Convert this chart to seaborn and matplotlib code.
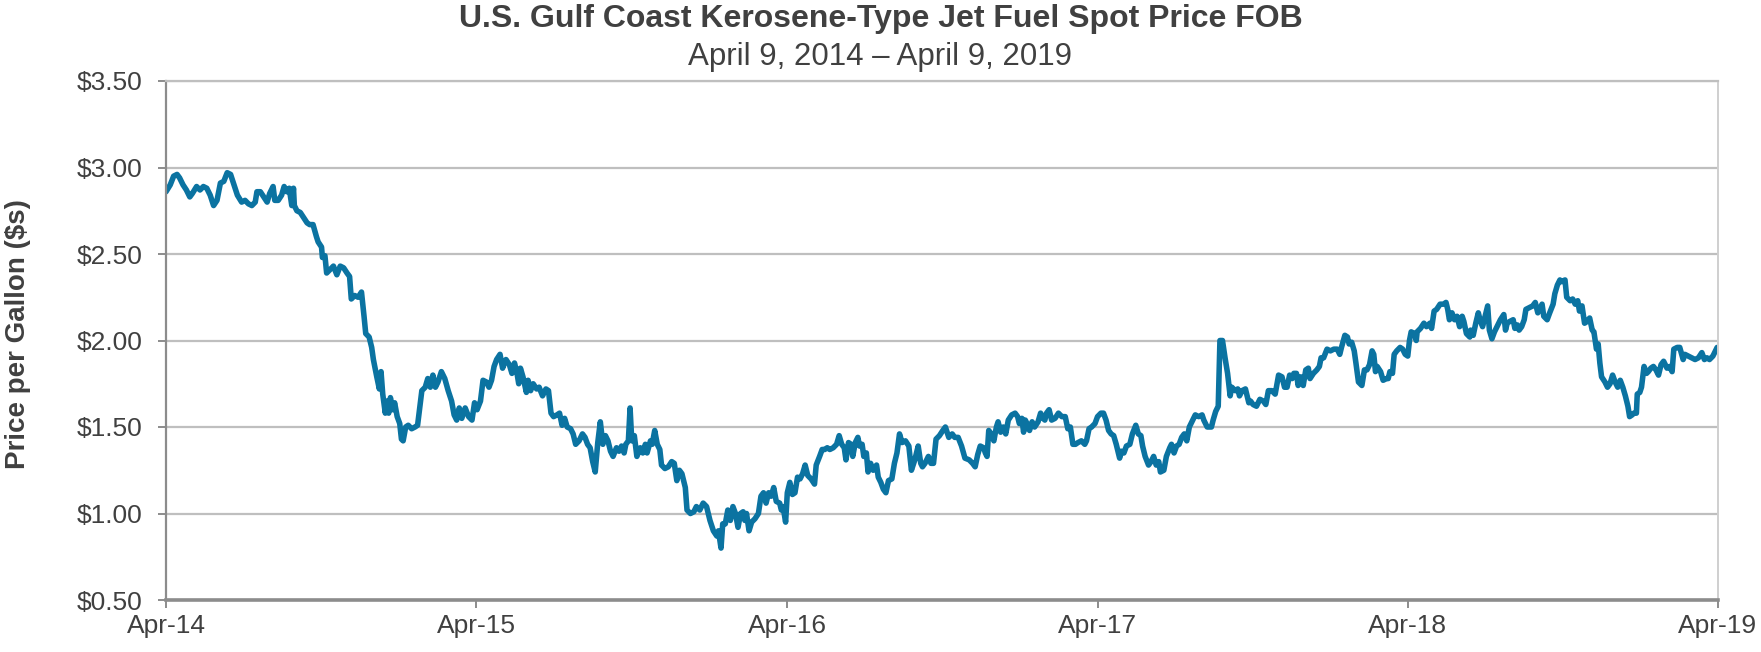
import matplotlib
matplotlib.use("Agg")
import matplotlib.pyplot as plt
import matplotlib.dates as mdates
from matplotlib.ticker import FuncFormatter
import pandas as pd
import seaborn as sns

TITLE = "U.S. Gulf Coast Kerosene-Type Jet Fuel Spot Price FOB"
SUBTITLE = "April 9, 2014 \u2013 April 9, 2019"
Y_LABEL = "Price per Gallon ($s)"
START = "2014-04-09"
END = "2019-04-09"
X_TICKS = ["2014-04-09", "2015-04-09", "2016-04-09", "2017-04-09", "2018-04-09", "2019-04-09"]
Y_TICKS = [0.5, 1.0, 1.5, 2.0, 2.5, 3.0, 3.5]

# days after 2014-04-09
days = [
    0, 5, 9, 13, 16, 20, 24, 28, 31, 36, 40, 44, 48, 52, 56, 60, 64, 68, 72, 76,
    80, 84, 89, 93, 97, 101, 105, 107, 111, 115, 119, 122, 126, 128, 132, 136, 139, 142, 145, 148,
    150, 151, 154, 158, 162, 166, 169, 173, 177, 179, 183, 184, 187, 189, 193, 197, 201, 205, 209, 213,
    216, 218, 222, 226, 230, 233, 235, 239, 242, 244, 248, 251, 253, 255, 258, 260, 262, 264, 267, 269,
    272, 275, 277, 279, 282, 285, 289, 293, 296, 299,
    301, 305, 308, 311, 314, 317, 320, 324, 328, 332, 336, 339, 342, 345, 348, 352, 356, 360, 363, 366,
    370, 373, 377, 380, 383, 386, 389, 393, 396, 400, 404, 407, 410, 413, 415, 417, 420, 424, 426, 429,
    432, 436, 439, 443, 447, 450, 453, 456, 460, 463, 466, 469, 472, 476, 479, 482, 486, 490, 493, 496,
    499, 502, 505, 508, 511, 514, 517, 520, 523, 526, 530, 533, 536, 539, 541, 544, 546, 548, 551, 554,
    558, 561, 564, 566, 570, 572, 575, 578, 581, 583, 587, 591, 595, 598, 601, 604, 607, 611, 613, 617,
    621, 624, 628,
    632, 636, 640, 644, 648, 650, 653, 655, 658, 661, 664, 667, 670, 673, 676, 679, 681, 683, 686, 689,
    693, 697, 700, 703, 706, 709, 712, 715, 718, 722, 724, 726, 729, 731, 734, 737, 740, 743, 746, 749,
    752, 755, 759, 763, 765, 769, 772, 775, 778, 781, 785, 789, 792, 795, 798, 800, 803, 806, 808, 811,
    814, 816, 819, 821, 824, 826, 829, 832, 836, 838, 841, 844, 847, 850, 854, 857, 860, 863, 866, 870,
    874, 877, 881, 885, 888, 890, 893, 897, 900, 903, 906, 910, 914, 917, 921, 925, 928, 932, 936, 940,
    945, 949, 952, 955,
    958, 962, 964, 966, 968, 971, 974, 977, 979, 982, 985, 988, 991, 995, 999, 1002, 1004, 1007, 1009, 1011,
    1013, 1016, 1019, 1022, 1026, 1029, 1032, 1034, 1036, 1039, 1042, 1046, 1050, 1054, 1058, 1061, 1064, 1067, 1070, 1073,
    1077, 1081, 1083, 1086, 1089, 1093, 1096, 1100, 1103, 1106, 1109, 1112, 1115, 1118, 1122, 1124, 1127, 1130, 1134, 1137,
    1141, 1144, 1147, 1149, 1152, 1156, 1159, 1162, 1165, 1168, 1170, 1174, 1177, 1181, 1183, 1186, 1189, 1192, 1195, 1198,
    1201, 1204, 1207, 1211, 1215, 1219, 1221, 1225, 1228, 1230, 1232, 1235, 1238, 1240, 1243, 1246, 1249, 1252, 1254, 1258,
    1261, 1263, 1266, 1270, 1274, 1276, 1279, 1283,
    1287, 1291, 1294, 1297, 1301, 1305, 1309, 1313, 1316, 1319, 1322, 1325, 1327, 1330, 1332, 1335, 1338, 1341, 1344, 1346,
    1350, 1354, 1357, 1359, 1362, 1366, 1370, 1374, 1378, 1381, 1383, 1387, 1390, 1392, 1395, 1398, 1400, 1403, 1407, 1410,
    1413, 1416, 1419, 1421, 1423, 1425, 1429, 1432, 1436, 1438, 1440, 1443, 1445, 1448, 1452, 1455, 1458, 1461, 1463, 1465,
    1469, 1471, 1472, 1476, 1480, 1483, 1487, 1489, 1492, 1495, 1499, 1503, 1506, 1508, 1510, 1513, 1516, 1519, 1522, 1525,
    1527, 1530, 1534, 1535, 1538, 1541, 1544, 1546, 1549, 1552, 1555, 1557, 1560, 1563, 1566, 1570, 1574, 1576, 1578, 1581,
    1585, 1587, 1590, 1592, 1595, 1598, 1600, 1604, 1608, 1611, 1614, 1616, 1619, 1621, 1625, 1628, 1632, 1634, 1637, 1640,
    1642, 1646, 1648, 1652, 1655, 1658, 1661, 1663, 1666, 1669, 1672, 1675, 1678, 1680, 1683, 1685, 1687, 1689, 1693, 1696,
    1699, 1702, 1705, 1708, 1711, 1714, 1717, 1720, 1722, 1725, 1727, 1730, 1731, 1734, 1736, 1739, 1742, 1744, 1747, 1750,
    1753, 1756, 1759, 1762, 1766, 1769, 1772, 1774, 1778, 1781, 1785, 1787, 1791, 1795, 1799, 1803, 1807, 1810, 1813, 1816,
    1820, 1823, 1825, 1826,
]

price = [
    2.86, 2.90, 2.95, 2.96, 2.94, 2.90, 2.87, 2.83, 2.85, 2.89, 2.87, 2.89, 2.88, 2.84, 2.78, 2.81, 2.91, 2.92, 2.97, 2.96,
    2.90, 2.84, 2.80, 2.81, 2.79, 2.78, 2.80, 2.86, 2.86, 2.83, 2.80, 2.85, 2.89, 2.81, 2.81, 2.84, 2.89, 2.86, 2.88, 2.78,
    2.88, 2.78, 2.75, 2.74, 2.71, 2.68, 2.67, 2.67, 2.60, 2.57, 2.54, 2.48, 2.49, 2.39, 2.41, 2.43, 2.38, 2.43, 2.42, 2.39,
    2.37, 2.24, 2.26, 2.25, 2.28, 2.14, 2.04, 2.02, 1.96, 1.89, 1.79, 1.72, 1.82, 1.69, 1.58, 1.65, 1.58, 1.67, 1.60, 1.64,
    1.56, 1.52, 1.43, 1.42, 1.50, 1.51, 1.49, 1.50, 1.51, 1.63,
    1.71, 1.73, 1.78, 1.73, 1.80, 1.73, 1.76, 1.82, 1.78, 1.71, 1.65, 1.57, 1.54, 1.61, 1.55, 1.61, 1.56, 1.54, 1.64, 1.60,
    1.65, 1.77, 1.76, 1.73, 1.77, 1.85, 1.89, 1.92, 1.84, 1.89, 1.86, 1.81, 1.87, 1.81, 1.75, 1.84, 1.79, 1.70, 1.77, 1.71,
    1.75, 1.72, 1.73, 1.68, 1.72, 1.71, 1.58, 1.56, 1.57, 1.58, 1.51, 1.55, 1.50, 1.49, 1.46, 1.40, 1.42, 1.46, 1.44, 1.40,
    1.38, 1.30, 1.24, 1.41, 1.53, 1.40, 1.45, 1.42, 1.36, 1.33, 1.38, 1.36, 1.39, 1.35, 1.40, 1.42, 1.61, 1.42, 1.45, 1.33,
    1.38, 1.35, 1.40, 1.35, 1.42, 1.40, 1.48, 1.40, 1.37, 1.28, 1.26, 1.27, 1.30, 1.29, 1.19, 1.25, 1.23, 1.15, 1.02, 1.00,
    1.01, 1.04, 1.02,
    1.06, 1.04, 0.96, 0.90, 0.87, 0.90, 0.80, 0.94, 0.94, 1.02, 0.96, 1.04, 1.00, 0.92, 1.00, 1.01, 0.96, 1.00, 0.90, 0.95,
    0.97, 1.00, 1.10, 1.12, 1.06, 1.12, 1.10, 1.15, 1.07, 1.06, 1.02, 1.04, 0.95, 1.12, 1.18, 1.11, 1.12, 1.21, 1.20, 1.23,
    1.28, 1.22, 1.20, 1.17, 1.28, 1.33, 1.37, 1.37, 1.38, 1.37, 1.38, 1.40, 1.45, 1.40, 1.38, 1.31, 1.41, 1.40, 1.33, 1.41,
    1.44, 1.39, 1.40, 1.33, 1.35, 1.24, 1.29, 1.25, 1.28, 1.21, 1.18, 1.14, 1.12, 1.19, 1.20, 1.29, 1.35, 1.46, 1.41, 1.42,
    1.39, 1.25, 1.31, 1.39, 1.29, 1.27, 1.29, 1.33, 1.29, 1.29, 1.43, 1.45, 1.48, 1.50, 1.44, 1.46, 1.44, 1.44, 1.39, 1.32,
    1.31, 1.29, 1.27, 1.34,
    1.39, 1.38, 1.35, 1.33, 1.48, 1.46, 1.42, 1.50, 1.53, 1.47, 1.50, 1.46, 1.54, 1.57, 1.58, 1.56, 1.52, 1.55, 1.47, 1.54,
    1.52, 1.48, 1.53, 1.50, 1.53, 1.58, 1.55, 1.54, 1.58, 1.60, 1.54, 1.55, 1.58, 1.56, 1.56, 1.49, 1.50, 1.40, 1.40, 1.41,
    1.42, 1.40, 1.42, 1.49, 1.50, 1.52, 1.56, 1.58, 1.58, 1.54, 1.48, 1.46, 1.45, 1.40, 1.32, 1.36, 1.35, 1.39, 1.40, 1.46,
    1.51, 1.46, 1.45, 1.39, 1.33, 1.28, 1.30, 1.33, 1.28, 1.30, 1.24, 1.25, 1.33, 1.38, 1.40, 1.35, 1.39, 1.40, 1.44, 1.46,
    1.42, 1.50, 1.53, 1.57, 1.56, 1.57, 1.54, 1.50, 1.50, 1.50, 1.54, 1.59, 1.62, 2.00, 2.00, 1.90, 1.81, 1.68, 1.73, 1.71,
    1.72, 1.68, 1.71, 1.72, 1.64, 1.65, 1.63, 1.62,
    1.66, 1.65, 1.63, 1.71, 1.71, 1.69, 1.80, 1.79, 1.73, 1.73, 1.80, 1.78, 1.81, 1.81, 1.74, 1.79, 1.74, 1.83, 1.84, 1.78,
    1.81, 1.83, 1.85, 1.90, 1.90, 1.95, 1.94, 1.95, 1.95, 1.92, 1.96, 2.03, 2.02, 1.98, 1.99, 1.94, 1.87, 1.76, 1.74, 1.83,
    1.83, 1.86, 1.94, 1.92, 1.82, 1.85, 1.82, 1.77, 1.78, 1.78, 1.82, 1.81, 1.92, 1.94, 1.96, 1.95, 1.92, 1.91, 2.00, 2.05,
    2.04, 2.00, 2.05, 2.07, 2.10, 2.08, 2.10, 2.07, 2.17, 2.18, 2.21, 2.21, 2.22, 2.18, 2.12, 2.16, 2.12, 2.14, 2.08, 2.14,
    2.11, 2.04, 2.02, 2.06, 2.03, 2.10, 2.16, 2.12, 2.08, 2.14, 2.20, 2.06, 2.01, 2.05, 2.08, 2.12, 2.15, 2.06, 2.10, 2.11,
    2.12, 2.07, 2.09, 2.06, 2.08, 2.12, 2.18, 2.19, 2.20, 2.22, 2.16, 2.18, 2.21, 2.14, 2.12, 2.16, 2.21, 2.27, 2.32, 2.35,
    2.34, 2.35, 2.25, 2.23, 2.24, 2.21, 2.23, 2.17, 2.20, 2.10, 2.11, 2.13, 2.06, 2.05, 1.95, 1.98, 1.87, 1.79, 1.76, 1.73,
    1.75, 1.80, 1.76, 1.73, 1.77, 1.73, 1.68, 1.62, 1.56, 1.57, 1.58, 1.58, 1.69, 1.70, 1.73, 1.85, 1.81, 1.82, 1.84, 1.85,
    1.83, 1.80, 1.86, 1.88, 1.84, 1.85, 1.82, 1.95, 1.96, 1.96, 1.89, 1.92, 1.91, 1.90, 1.89, 1.90, 1.93, 1.89, 1.90, 1.89,
    1.91, 1.94, 1.96, 1.96,
]

df = pd.DataFrame({
    "date": pd.Timestamp(START) + pd.to_timedelta(days, unit="D"),
    "price": price,
})

sns.set_theme(style="white")
plt.rcParams["font.family"] = ["Liberation Sans", "DejaVu Sans"]

TEXT = "#404040"
GRID = "#BFBFBF"
AXIS = "#8C8C8C"

fig = plt.figure(figsize=(17.61, 6.52), dpi=100)
ax = fig.add_axes([166 / 1761, 52 / 652, 1552 / 1761, 519 / 652])

sns.lineplot(data=df, x="date", y="price", ax=ax, color="#0B73A1",
             linewidth=4.0, legend=False)

ax.set_xlim(pd.Timestamp(START), pd.Timestamp(END))
ax.set_ylim(Y_TICKS[0], Y_TICKS[-1])
ax.set_yticks(Y_TICKS)
ax.yaxis.set_major_formatter(FuncFormatter(lambda v, _: f"${v:.2f}"))
ax.set_xticks([pd.Timestamp(d) for d in X_TICKS])
ax.xaxis.set_major_formatter(mdates.DateFormatter("%b-%y"))

ax.yaxis.grid(True, color=GRID, linewidth=1.6)
ax.xaxis.grid(False)
ax.set_axisbelow(True)

ax.spines["left"].set_color(AXIS)
ax.spines["left"].set_linewidth(1.6)
ax.spines["bottom"].set_color(AXIS)
ax.spines["bottom"].set_linewidth(2.6)
ax.spines["top"].set_color(GRID)
ax.spines["top"].set_linewidth(1.6)
ax.spines["right"].set_color("#CFCFCF")
ax.spines["right"].set_linewidth(1.4)

ax.tick_params(axis="both", which="major", direction="out", length=6,
               width=1.4, color=AXIS, labelcolor=TEXT, labelsize=19)
ax.tick_params(axis="y", pad=11, left=True)
ax.tick_params(axis="x", pad=4, bottom=True)

ax.set_xlabel("")
ax.set_ylabel("")
fig.text(18 / 1761, 1 - 334 / 652, Y_LABEL, rotation=90, ha="center",
         va="center", fontsize=20, fontweight="bold", color=TEXT)

fig.text(0.5, 1 - 19 / 652, TITLE, ha="center", va="center", fontsize=23,
         fontweight="bold", color=TEXT)
fig.text(0.5, 1 - 57 / 652, SUBTITLE, ha="center", va="center", fontsize=22.5,
         color=TEXT)

fig.savefig("out.png", dpi=100)
